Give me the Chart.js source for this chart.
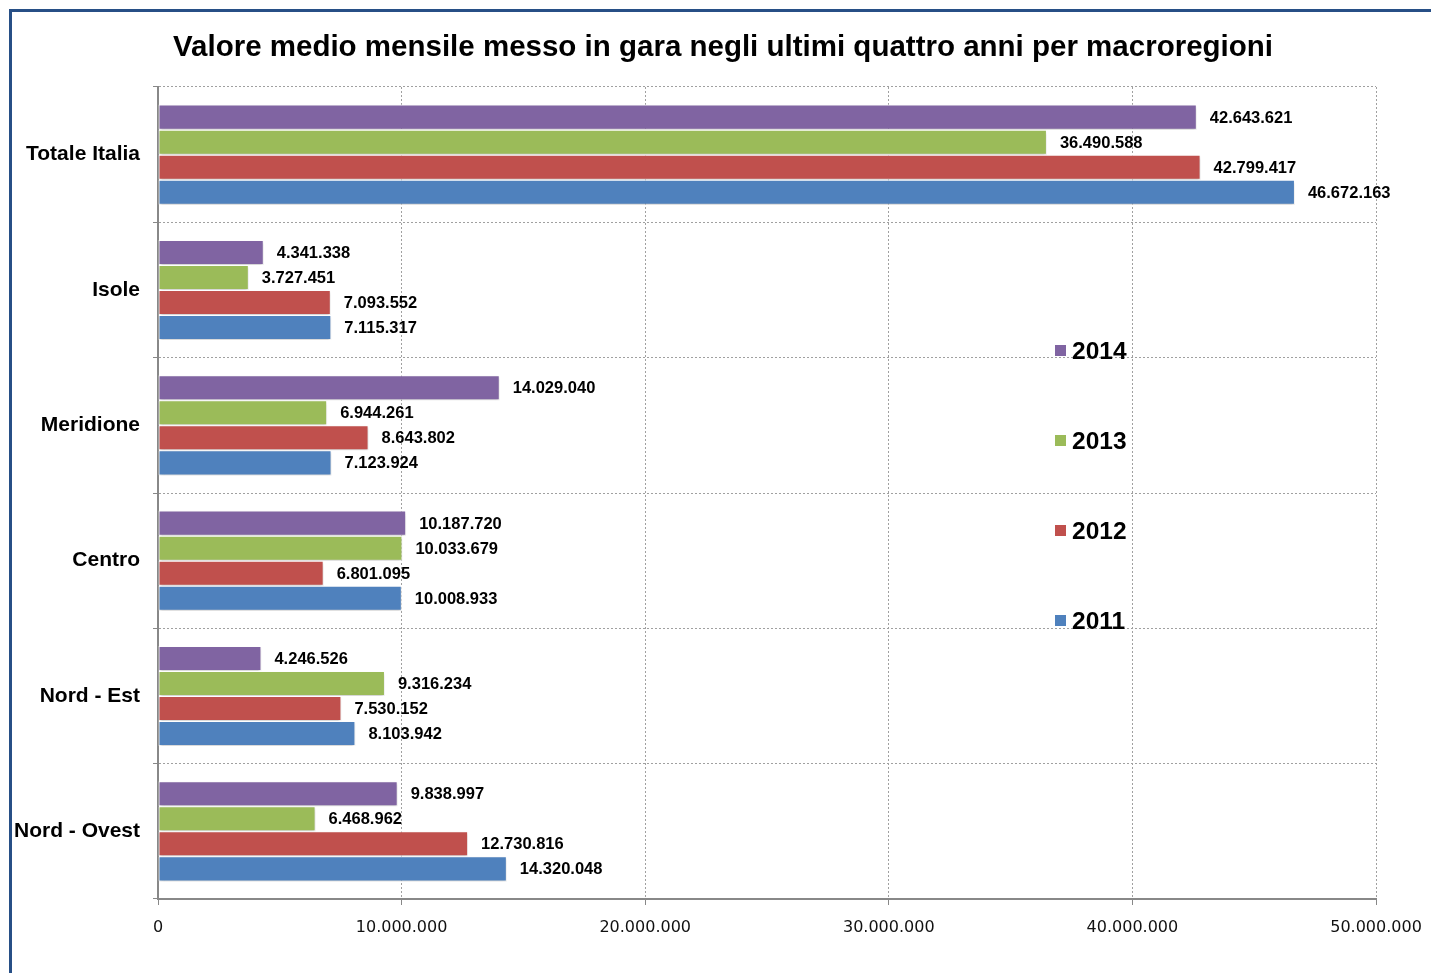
<!DOCTYPE html>
<html>
<head>
<meta charset="utf-8">
<script src="https://cdn.jsdelivr.net/npm/chart.js@4.4.1/dist/chart.umd.min.js"></script>
<style>
  html, body { margin: 0; padding: 0; background: #fff; }
  #wrap { position: relative; width: 1431px; height: 973px; overflow: hidden; }
  #frame { position: absolute; left: 9px; top: 9px; width: 1500px; height: 1100px;
           border-left: 3px solid #274f86; border-top: 3px solid #274f86; pointer-events: none; }
  canvas { position: absolute; left: 0; top: 0; }
</style>
</head>
<body>
<div id="wrap">
  <canvas id="chart" width="1431" height="973"></canvas>
  <div id="frame"></div>
</div>
<script>
// Valore medio mensile messo in gara, per macroregione e anno
const CATEGORIES = ["Totale Italia", "Isole", "Meridione", "Centro", "Nord - Est", "Nord - Ovest"];
const YEARS = ["2014", "2013", "2012", "2011"];
const COLORS = ["#8064a2", "#9bbb59", "#c0504d", "#4f81bd"];

const VALUES_2014 = [42643621, 4341338, 14029040, 10187720, 4246526, 9838997];
const VALUES_2013 = [36490588, 3727451, 6944261, 10033679, 9316234, 6468962];
const VALUES_2012 = [42799417, 7093552, 8643802, 6801095, 7530152, 12730816];
const VALUES_2011 = [46672163, 7115317, 7123924, 10008933, 8103942, 14320048];

const X_MAX = 50000000;
const X_STEP = 10000000;
const TITLE = "Valore medio mensile messo in gara negli ultimi quattro anni per macroregioni";

const SANS = '"Liberation Sans", Arial, sans-serif';
const fmt = (v) => String(v).replace(/\B(?=(\d{3})+(?!\d))/g, ".");

const seriesValues = [VALUES_2014, VALUES_2013, VALUES_2012, VALUES_2011];
const datasets = YEARS.map((y, i) => ({
  label: y,
  data: seriesValues[i],
  backgroundColor: COLORS[i],
  borderColor: "#ffffff",
  borderWidth: 1,
  borderSkipped: false,
  categoryPercentage: 0.74,
  barPercentage: 1.0,
}));

// soft shadow under bars + value labels
const barDecor = {
  id: "barDecor",
  beforeDatasetsDraw(chart) {
    const ctx = chart.ctx;
    ctx.save();
    ctx.shadowColor = "rgba(0,0,0,0.22)";
    ctx.shadowBlur = 3;
    ctx.shadowOffsetY = 2;
  },
  afterDatasetsDraw(chart) {
    const ctx = chart.ctx;
    ctx.restore();
    ctx.save();
    ctx.font = "bold 16.5px " + SANS;
    ctx.fillStyle = "#000";
    ctx.textAlign = "left";
    ctx.textBaseline = "middle";
    chart.data.datasets.forEach((ds, i) => {
      chart.getDatasetMeta(i).data.forEach((bar, j) => {
        ctx.fillText(fmt(ds.data[j]), bar.x + 13, bar.y + 1);
      });
    });
    ctx.restore();
  },
};

// title and the legend drawn inside the plot
const chartDecor = {
  id: "chartDecor",
  afterDraw(chart) {
    const ctx = chart.ctx;
    ctx.save();
    ctx.fillStyle = "#000";
    ctx.font = "bold 29.5px " + SANS;
    ctx.textAlign = "center";
    ctx.textBaseline = "middle";
    ctx.fillText(TITLE, 723, 48);

    ctx.font = "bold 24.5px " + SANS;
    ctx.textAlign = "left";
    chart.data.datasets.forEach((ds, i) => {
      const y = 351 + i * 90;
      ctx.fillStyle = ds.backgroundColor;
      ctx.fillRect(1055, y - 6, 11, 11);
      ctx.fillStyle = "#000";
      ctx.fillText(ds.label, 1072, y + 1);
    });
    ctx.restore();
  },
};

new Chart(document.getElementById("chart"), {
  type: "bar",
  data: { labels: CATEGORIES, datasets },
  options: {
    indexAxis: "y",
    responsive: false,
    devicePixelRatio: 1,
    animation: false,
    layout: { padding: { top: 87, right: 55, bottom: 0, left: 0 } },
    plugins: {
      legend: { display: false },
      title: { display: false },
      tooltip: { enabled: false },
    },
    scales: {
      x: {
        min: 0,
        max: X_MAX,
        afterFit: (s) => { s.height = 74; },
        ticks: {
          stepSize: X_STEP,
          color: "#111",
          padding: 9,
          font: { family: '"DejaVu Sans", sans-serif', size: 16, lineHeight: 1.7 },
          callback: (v) => fmt(v),
        },
        grid: { color: "#a0a0a0", tickLength: 6, tickColor: "#888", tickBorderDash: [], tickWidth: 1 },
        border: { display: true, color: "#888", width: 2, dash: [2, 2] },
      },
      y: {
        offset: true,
        afterFit: (s) => { s.width = 158; },
        ticks: {
          color: "#000",
          padding: 13,
          font: { family: SANS, size: 21, weight: "bold" },
        },
        grid: { offset: true, color: "#a0a0a0", tickLength: 5, tickColor: "#888", tickBorderDash: [], tickWidth: 1 },
        border: { display: true, color: "#888", width: 2, dash: [2, 2] },
      },
    },
  },
  plugins: [barDecor, chartDecor],
});
</script>
</body>
</html>
